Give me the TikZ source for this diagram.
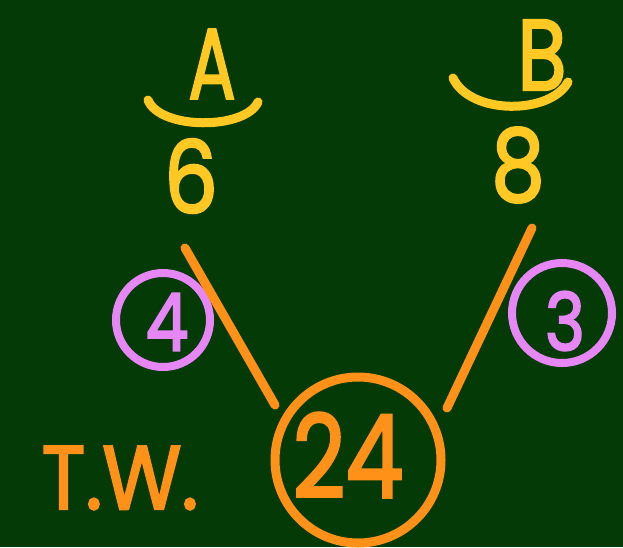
\documentclass[tikz,border=0pt]{standalone}
\usepackage{fontspec}
\setmainfont{Poppins}
\newfontfamily\marker{Poppins}[FakeBold=2.5]
\definecolor{board}{RGB}{4,58,6}
\definecolor{chalkyellow}{RGB}{255,200,35}
\definecolor{chalkorange}{RGB}{255,145,25}
\definecolor{chalkpurple}{RGB}{230,135,245}
\begin{document}
\begin{tikzpicture}[x=1pt,y=-1pt,
  lbl/.style={inner sep=0pt, anchor=center},
  big/.style={lbl, font=\fontsize{100}{100}\selectfont\marker},
  stroke/.style={line width=9pt, line cap=round, line join=round},
  ring/.style={circle, draw, line width=8pt, inner sep=0pt}]
\fill[board] (0,0) rectangle (623,547);
\useasboundingbox (0,0) rectangle (623,547);
% left group
\node[big, text=chalkyellow] (A) at (212,64) {\scalebox{0.7}[1]{A}};
\draw[stroke, chalkyellow] (148,100) .. controls (160,130) and (245,130) .. (258,102);
\node[big, text=chalkyellow] (six) at (191,176) {\scalebox{0.85}[1]{6}};
% right group
\node[big, text=chalkyellow] (B) at (542,55) {\scalebox{0.8}[1]{B}};
\draw[stroke, chalkyellow] (453,78) .. controls (470,115) and (550,115) .. (568,82);
\node[big, text=chalkyellow] (eight) at (518,165) {\scalebox{0.85}[1]{8}};
% purple circles
\node[ring, draw=chalkpurple, minimum size=94pt] (c4) at (163,320) {};
\node[lbl, text=chalkpurple, font=\fontsize{80}{80}\selectfont\marker] (n4) at (167,322) {\scalebox{0.85}[1]{4}};
\node[ring, draw=chalkpurple, minimum size=100pt] (c3) at (562,313) {};
\node[lbl, text=chalkpurple, font=\fontsize{80}{80}\selectfont\marker] (n3) at (565,321) {\scalebox{0.85}[1]{3}};
% total circle
\node[ring, draw=chalkorange, line width=9pt, minimum size=166pt] (c24) at (358,460) {};
\node[lbl, text=chalkorange, font=\fontsize{115}{115}\selectfont\marker] (n24) at (348,455) {\scalebox{0.8}[1]{24}};
% connectors
\coordinate (l1) at (185,248);
\coordinate (l2) at (275,405);
\coordinate (r1) at (532,228);
\coordinate (r2) at (447,408);
\draw[stroke, chalkorange] (l1) -- (l2);
\draw[stroke, chalkorange] (r1) -- (r2);
% T.W.
\node[lbl, text=chalkorange, font=\fontsize{90}{90}\selectfont\marker] (tw) at (120,478) {\scalebox{0.9}[1]{T.W.}};
\end{tikzpicture}
\end{document}
